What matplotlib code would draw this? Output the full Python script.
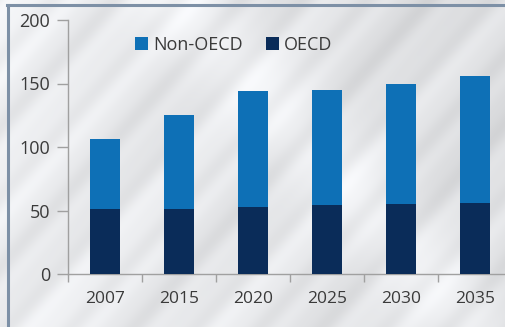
import numpy as np
import matplotlib
matplotlib.use("Agg")
import matplotlib.pyplot as plt
from matplotlib.lines import Line2D

plt.rcParams['font.family'] = ['Open Sans', 'DejaVu Sans']

# Data
years = ["2007", "2015", "2020", "2025", "2030", "2035"]
oecd = [51, 51, 52.5, 54, 55, 56]
non_oecd = [55, 74, 91.5, 91, 95, 100]
yticks = [0, 50, 100, 150, 200]

col_non = "#0e70b6"
col_oecd = "#0a2c59"

W, H = 505, 327
fig = plt.figure(figsize=(W / 100, H / 100), dpi=100)

# Brushed-metal style backdrop: soft gradient with diagonal streaks
yy, xx = np.mgrid[0:H, 0:W].astype(float)
base = 0.925 - 0.05 * (xx / W) + 0.015 * (yy / H)
d = xx + 0.9 * yy
streak = 0.022 * np.sin(d / 10.0) + 0.018 * np.sin(d / 27.0 + 1.3) + 0.008 * np.sin(d / 5.0 + 0.4)
glow = 0.05 * np.exp(-((xx - 0.9 * yy - 180) / 60.0) ** 2) + 0.04 * np.exp(-((d - 60) / 50.0) ** 2)
img = np.clip(base + streak + glow, 0, 1)
rgb = np.dstack([img * 0.985, img * 0.99, img])
bg = fig.add_axes([0, 0, 1, 1], zorder=-10)
bg.imshow(rgb, aspect="auto", extent=[0, 1, 0, 1], origin="upper")
bg.axis("off")

# Frame lines along the top and left edge
fig.add_artist(Line2D([7 / W, 1], [1 - 4.5 / H, 1 - 4.5 / H], transform=fig.transFigure,
                      color="#7d90a6", lw=2.2))
fig.add_artist(Line2D([7.5 / W, 7.5 / W], [0, 1 - 4.5 / H], transform=fig.transFigure,
                      color="#7d90a6", lw=2.2))

ax = fig.add_axes([68 / W, 53 / H, 444 / W, 254 / H])
ax.patch.set_alpha(0)
x = np.arange(len(years))
bw = 0.405
ax.bar(x, oecd, width=bw, color=col_oecd, label="OECD", zorder=3)
ax.bar(x, non_oecd, width=bw, bottom=oecd, color=col_non, label="Non-OECD", zorder=3)

ax.set_xlim(-0.5, len(years) - 0.5)
ax.set_ylim(0, 200)
ax.set_yticks(yticks)
ax.set_xticks(x)
ax.set_xticklabels(years)
ax.set_xticks(np.arange(len(years) + 1) - 0.5, minor=True)
ax.tick_params(axis="x", which="major", length=0, pad=12, labelsize=12.5, labelcolor="#3a3a3a")
ax.tick_params(axis="x", which="minor", length=6, color="#a0a0a0", width=1)
ax.tick_params(axis="y", length=8, color="#a0a0a0", width=1, pad=5, labelsize=13,
               labelcolor="#3a3a3a")
for s in ["top", "right"]:
    ax.spines[s].set_visible(False)
for s in ["left", "bottom"]:
    ax.spines[s].set_color("#a0a0a0")
    ax.spines[s].set_linewidth(1)

h, l = ax.get_legend_handles_labels()
leg = ax.legend(h[::-1], l[::-1], loc="upper left", bbox_to_anchor=(0.135, 0.965), ncol=2,
                frameon=False, fontsize=13, handlelength=0.7, handleheight=0.7,
                handletextpad=0.3, columnspacing=1.3, borderaxespad=0)
for t in leg.get_texts():
    t.set_color("#3a3a3a")

fig.savefig("out.png", dpi=100)
